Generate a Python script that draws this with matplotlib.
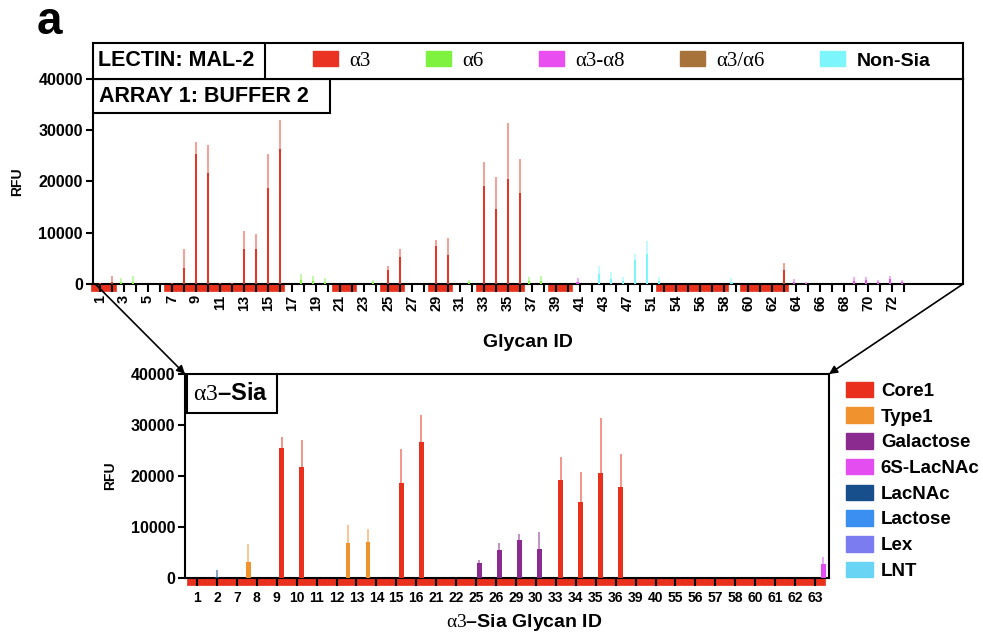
import matplotlib
matplotlib.use("Agg")
import matplotlib.pyplot as plt
from matplotlib.patches import Patch, Rectangle, ConnectionPatch
from matplotlib.colors import to_rgb
import numpy as np

plt.rcParams['font.family'] = ['Liberation Sans', 'DejaVu Sans']
plt.rcParams['mathtext.fontset'] = 'custom'
plt.rcParams['mathtext.rm'] = 'Liberation Serif'

# ---- top panel: all glycans on array 1 ----
top_ids = [1, 2, 3, 4, 5, 6, 7, 8, 9, 10, 11, 12, 13, 14, 15, 16, 17, 18, 19, 20,
           21, 22, 23, 24, 25, 26, 27, 28, 29, 30, 31, 32, 33, 34, 35, 36, 37, 38, 39, 40,
           41, 42, 43, 45, 47, 49, 51, 53, 54, 55, 56, 57, 58, 59, 60, 61, 62, 63, 64, 65,
           66, 67, 68, 69, 70, 71, 72, 73]
top_cat = ['a3', 'a3', 'a6', 'a6', 'a6', 'a6', 'a3', 'a3', 'a3', 'a3', 'a3', 'a3', 'a3', 'a3', 'a3', 'a3',
           'a6', 'a6', 'a6', 'a6', 'a3', 'a3', 'a6', 'a6', 'a3', 'a3', 'a6', 'a6', 'a3', 'a3', 'a6', 'a6',
           'a3', 'a3', 'a3', 'a3', 'a6', 'a6', 'a3', 'a3', 'a38', 'a38', 'ns', 'ns', 'ns', 'ns', 'ns', 'ns',
           'a3', 'a3', 'a3', 'a3', 'a3', 'ns', 'a3', 'a3', 'a3', 'a3', 'a38', 'a38', 'a38', 'a38', 'a38',
           'a38', 'a38', 'a38', 'a38', 'a38']
top_val = [100, 300, 300, 300, 0, 0, 100, 3100, 25300, 21600, 100, 100, 6900, 6900, 18700, 26400,
           0, 800, 600, 400, 0, 0, 0, 300, 2800, 5300, 0, 0, 7400, 5600, 0, 300,
           19150, 14700, 20450, 17650, 500, 500, 0, 0, 400, 0, 2000, 1000, 500, 4600, 5900, 500,
           0, 0, 0, 0, 0, 400, 0, 0, 0, 2700, 400, 100, 0, 0, 0,
           600, 800, 300, 1000, 300]
top_err = [100, 1200, 950, 1200, 0, 0, 100, 3700, 2300, 5500, 100, 100, 3500, 2900, 6600, 5600,
           0, 1200, 1000, 700, 0, 0, 0, 550, 700, 1600, 0, 0, 1100, 3400, 0, 400,
           4550, 6100, 10950, 6700, 900, 1000, 0, 0, 700, 0, 1600, 1350, 900, 1300, 2400, 900,
           0, 0, 0, 0, 0, 700, 0, 0, 0, 1300, 600, 200, 0, 0, 0,
           700, 500, 550, 500, 400]
# glycans marked with the red alpha3 band under the axis
top_band_ids = [1, 2, 7, 8, 9, 10, 11, 12, 13, 14, 15, 16, 21, 22, 25, 26, 29, 30,
                33, 34, 35, 36, 39, 40, 53, 54, 55, 56, 57, 58, 60, 61, 62, 63]

top_names = {'a3': 'α3', 'a6': 'α6', 'a38': 'α3-α8', 'a36': 'α3/α6', 'ns': 'Non-Sia'}
top_colors = {'a3': '#ea3323', 'a6': '#7ef23e', 'a38': '#e84ef0', 'a36': '#a8733a', 'ns': '#7cf5fb'}
top_offset = {'a3': 0.0, 'a6': -0.25, 'a38': -0.2, 'a36': -0.3, 'ns': -0.4}

# ---- bottom panel: alpha3-Sia glycans ----
bot_ids = [1, 2, 7, 8, 9, 10, 11, 12, 13, 14, 15, 16, 21, 22, 25, 26, 29, 30,
           33, 34, 35, 36, 39, 40, 55, 56, 57, 58, 60, 61, 62, 63]
bot_cat = ['Core1', 'LacNAc', 'Lex', 'Type1', 'Core1', 'Core1', 'Lactose', 'LNT', 'Type1', 'Type1',
           'Core1', 'Core1', 'Lactose', 'LacNAc', 'Galactose', 'Galactose', 'Galactose', 'Galactose',
           'Core1', 'Core1', 'Core1', 'Core1', 'LNT', 'LNT', 'Lex', 'Lex', 'LNT', 'LNT',
           'Lactose', 'Lactose', 'Lex', '6S-LacNAc']
bot_val = [100, 300, 150, 3250, 25600, 21700, 100, 100, 7000, 7100, 18700, 26600, 100, 100,
           2900, 5450, 7550, 5800, 19200, 14850, 20600, 17800, 100, 100, 100, 100, 100, 100,
           100, 100, 100, 2800]
bot_err = [100, 1300, 100, 3450, 2000, 5350, 50, 50, 3450, 2600, 6600, 5400, 50, 50,
           600, 1450, 1050, 3250, 4500, 5950, 10700, 6600, 50, 50, 50, 50, 50, 50,
           50, 50, 50, 1350]

bot_names = ['Core1', 'Type1', 'Galactose', '6S-LacNAc', 'LacNAc', 'Lactose', 'Lex', 'LNT']
bot_colors = {'Core1': '#e8301c', 'Type1': '#f0922e', 'Galactose': '#8b2a8f', '6S-LacNAc': '#e44ef0',
              'LacNAc': '#174f8c', 'Lactose': '#3a8ff0', 'Lex': '#7b7cf0', 'LNT': '#6ad4f5'}
bot_offset = {'Core1': 0.25, 'Type1': -0.42, 'Galactose': 0.17, '6S-LacNAc': 0.42,
              'LacNAc': 0.0, 'Lactose': -0.25, 'Lex': -0.08, 'LNT': -0.17}

band_red = '#e8301c'


def lighter(c, f=0.5):
    r, g, b = to_rgb(c)
    return (r + (1 - r) * f, g + (1 - g) * f, b + (1 - b) * f)


W, H = 983, 636
fig = plt.figure(figsize=(W / 100, H / 100), dpi=100)

# axes rectangles from pixel positions
def px_axes(x0, y0, x1, y1):
    return fig.add_axes([x0 / W, 1 - y1 / H, (x1 - x0) / W, (y1 - y0) / H])

ax1 = px_axes(92.7, 78.7, 963, 284)
hax = px_axes(92.7, 43, 963, 78.7)
ax2 = px_axes(185, 374, 829, 578.3)

for a in (ax1, hax, ax2):
    for s in a.spines.values():
        s.set_linewidth(1.5)

# ---------- top panel ----------
pos1 = np.arange(1, len(top_ids) + 1)
tc = np.array(top_cat)
tv = np.array(top_val, dtype=float)
te = np.array(top_err, dtype=float)
for key in ['a3', 'a6', 'a38', 'a36', 'ns']:
    m = tc == key
    if not m.any():
        continue
    x = pos1[m] + top_offset[key]
    ax1.bar(x, tv[m], width=0.2, color=top_colors[key], zorder=3)
    ax1.errorbar(x, tv[m], yerr=[np.zeros(m.sum()), te[m]], fmt='none',
                 ecolor=lighter(top_colors[key], 0.45), elinewidth=1.2, capsize=0, zorder=2)

band_h1 = 1400
bpos1 = np.array([pos1[top_ids.index(i)] for i in top_band_ids])
ax1.bar(bpos1 - 0.2, -band_h1, width=1.0, bottom=0, color=band_red, ec=band_red,
        lw=0.5, clip_on=False, zorder=1)

ax1.set_xlim(0.4, 72.9)
ax1.set_ylim(0, 40000)
ax1.set_yticks([0, 10000, 20000, 30000, 40000])
ax1.set_yticklabels(['0', '10000', '20000', '30000', '40000'], fontsize=11.5, fontweight='bold')
ax1.set_xticks(pos1)
ax1.set_xticklabels([str(i) if k % 2 == 0 else '' for k, i in enumerate(top_ids)],
                    rotation=90, fontsize=10.5, fontweight='bold')
ax1.tick_params(axis='x', direction='out', length=6, width=1.5, pad=2)
ax1.tick_params(axis='y', direction='out', length=5, width=1.5, pad=2)
ax1.set_ylabel('RFU', fontsize=10, fontweight='bold', labelpad=10)
ax1.set_xlabel('Glycan ID', fontsize=14, fontweight='bold', labelpad=16)

ax1.add_patch(Rectangle((0, 1 - 34.3 / 205.3), 237.3 / 870.3, 34.3 / 205.3, transform=ax1.transAxes,
                        fc='white', ec='black', lw=1.5, zorder=5))
ax1.text(0.007, 1 - 17.5 / 205.3, 'ARRAY 1: BUFFER 2', transform=ax1.transAxes, fontsize=15.5,
         fontweight='bold', va='center', ha='left', zorder=6)

# header with lectin name and legend
hax.set_xticks([])
hax.set_yticks([])
hax.set_xlim(0, 1)
hax.set_ylim(0, 1)
hax.axvline((265 - 92.7) / 870.3, color='black', lw=1.5)
hax.text(0.006, 0.5, 'LECTIN: MAL-2', fontsize=15.5, fontweight='bold', va='center', ha='left')
hd = [Patch(color=top_colors[k]) for k in ['a3', 'a6', 'a38', 'a36', 'ns']]
leg = hax.legend(hd, [top_names[k] for k in ['a3', 'a6', 'a38', 'a36', 'ns']], ncol=5,
                 loc='center', bbox_to_anchor=(0.608, 0.5), frameon=False, fontsize=15,
                 handlelength=1.2, handleheight=0.75, handletextpad=0.55, columnspacing=2.65,
                 borderaxespad=0, borderpad=0)
for t in leg.get_texts()[:4]:
    t.set_fontfamily('Liberation Serif')
leg.get_texts()[4].set_fontweight('bold')
leg.get_texts()[4].set_fontsize(14)

# ---------- bottom panel ----------
pos2 = np.arange(1, len(bot_ids) + 1)
bc = np.array(bot_cat)
bv = np.array(bot_val, dtype=float)
be = np.array(bot_err, dtype=float)
for key in bot_names:
    m = bc == key
    if not m.any():
        continue
    x = pos2[m] + bot_offset[key]
    ax2.bar(x, bv[m], width=0.24, color=bot_colors[key], zorder=3)
    ax2.errorbar(x, bv[m], yerr=[np.zeros(m.sum()), be[m]], fmt='none',
                 ecolor=lighter(bot_colors[key], 0.4), elinewidth=1.2, capsize=0, zorder=2)

band_h2 = 1400
ax2.bar(pos2, -band_h2, width=1.0, bottom=0, color=band_red, ec=band_red, lw=0.5,
        clip_on=False, zorder=1)

ax2.set_xlim(0.4, 32.7)
ax2.set_ylim(0, 40000)
ax2.set_yticks([0, 10000, 20000, 30000, 40000])
ax2.set_yticklabels(['0', '10000', '20000', '30000', '40000'], fontsize=11.5, fontweight='bold')
ax2.set_xticks(pos2)
ax2.set_xticklabels([str(i) for i in bot_ids], fontsize=10, fontweight='bold')
ax2.tick_params(axis='x', direction='out', length=6, width=1.5, pad=3)
ax2.tick_params(axis='y', direction='out', length=5, width=1.5, pad=2)
ax2.set_ylabel('RFU', fontsize=10, fontweight='bold', labelpad=10)
ax2.set_xlabel(r'$\mathrm{\alpha3}$–Sia Glycan ID', fontsize=14, fontweight='bold')
ax2.xaxis.set_label_coords(0.527, -0.163)

ax2.add_patch(Rectangle((0.003, 1 - 39 / 204.3), 90 / 644, 39 / 204.3, transform=ax2.transAxes,
                        fc='white', ec='black', lw=1.5, zorder=5))
ax2.text(0.012, 1 - 19.5 / 204.3, r'$\mathrm{\alpha3}$–Sia', transform=ax2.transAxes,
         fontsize=17, fontweight='bold', va='center', ha='left', zorder=6)

bh = [Patch(color=bot_colors[k]) for k in bot_names]
ax2.legend(bh, bot_names, loc='upper left', bbox_to_anchor=(1.015, 1.0), frameon=False,
           prop={'size': 13.5, 'weight': 'bold'}, handlelength=1.45, handleheight=0.9,
           handletextpad=0.4, labelspacing=0.4, borderaxespad=0)

# zoom arrows from top panel to bottom panel
for xa, xb in [(0.003, 0.0), (1.0, 1.0)]:
    con = ConnectionPatch(xyA=(xa, 0), coordsA=ax1.transAxes, xyB=(xb, 1), coordsB=ax2.transAxes,
                          arrowstyle='-|>', mutation_scale=12, lw=1.2, color='black')
    fig.add_artist(con)

fig.text(37 / W, 1 - 22 / H, 'a', fontsize=33, fontweight='bold', va='center', ha='left')

fig.savefig('out.png', dpi=100)
